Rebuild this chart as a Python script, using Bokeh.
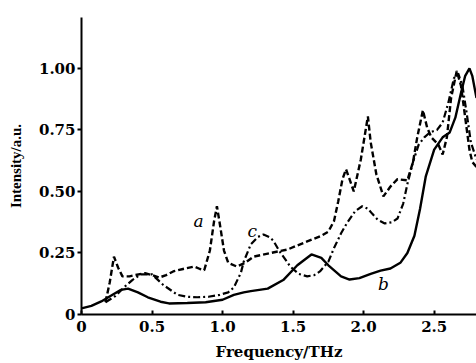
from bokeh.plotting import figure
from bokeh.models import FixedTicker
from bokeh.core.properties import value
from bokeh.embed import file_html
from bokeh.resources import INLINE

# Curve b (solid)
b_x = [0, 0.07, 0.14, 0.22, 0.28, 0.33, 0.4, 0.47, 0.56, 0.62, 0.75, 0.88, 1.0, 1.08, 1.15,
       1.2, 1.32, 1.43, 1.53, 1.63, 1.7, 1.75, 1.84, 1.9, 1.97, 2.05, 2.12, 2.19, 2.26, 2.31,
       2.36, 2.40, 2.44, 2.5, 2.56, 2.61, 2.65, 2.69, 2.72, 2.75, 2.77, 2.8]
b_y = [0.025, 0.035, 0.053, 0.08, 0.1, 0.105, 0.09, 0.07, 0.052, 0.045, 0.047, 0.05, 0.06, 0.08, 0.09,
       0.095, 0.105, 0.14, 0.2, 0.244, 0.23, 0.2, 0.155, 0.142, 0.148, 0.165, 0.178, 0.187, 0.21, 0.25,
       0.32, 0.43, 0.56, 0.67, 0.72, 0.74, 0.8, 0.9, 0.97, 1.0, 0.97, 0.88]

# Curve a (dashed)
a_x = [0.17, 0.2, 0.23, 0.26, 0.29, 0.34, 0.38, 0.45, 0.5, 0.55, 0.6, 0.65, 0.72, 0.8, 0.84, 0.87,
       0.91, 0.94, 0.96, 0.98, 1.01, 1.04, 1.1, 1.16, 1.22, 1.34, 1.46, 1.6, 1.7, 1.75, 1.79, 1.82,
       1.85, 1.875, 1.9, 1.93, 1.98, 2.03, 2.05, 2.09, 2.14, 2.19, 2.24, 2.31, 2.35, 2.38, 2.42,
       2.45, 2.48, 2.53, 2.56, 2.59, 2.62, 2.66, 2.69, 2.72, 2.75, 2.77, 2.8]
a_y = [0.05, 0.13, 0.235, 0.19, 0.155, 0.155, 0.16, 0.168, 0.16, 0.15, 0.16, 0.175, 0.185, 0.195, 0.185, 0.18,
       0.26, 0.38, 0.44, 0.37, 0.26, 0.21, 0.195, 0.21, 0.235, 0.25, 0.264, 0.297, 0.32, 0.337, 0.38, 0.46,
       0.55, 0.59, 0.55, 0.5, 0.63, 0.805, 0.7, 0.57, 0.48, 0.52, 0.55, 0.545, 0.62, 0.72, 0.83,
       0.76, 0.72, 0.69, 0.65, 0.72, 0.88, 0.99, 0.93, 0.8, 0.67, 0.62, 0.6]

# Curve c (dash-dot)
c_x = [0.17, 0.24, 0.3, 0.36, 0.42, 0.5, 0.58, 0.68, 0.75, 0.82, 0.9, 0.98, 1.04, 1.08, 1.13, 1.15,
       1.2, 1.25, 1.29, 1.33, 1.36, 1.4, 1.48, 1.54, 1.6, 1.65, 1.69, 1.75, 1.79, 1.84, 1.88, 1.94,
       1.99, 2.03, 2.06, 2.1, 2.15, 2.2, 2.24, 2.28, 2.31, 2.35, 2.39, 2.43, 2.47, 2.52, 2.56, 2.6,
       2.64, 2.67, 2.7, 2.73, 2.76, 2.8]
c_y = [0.05, 0.075, 0.11, 0.14, 0.163, 0.163, 0.12, 0.08, 0.072, 0.07, 0.072, 0.08, 0.09, 0.11, 0.17, 0.215,
       0.285, 0.315, 0.325, 0.315, 0.3, 0.26, 0.195, 0.165, 0.155, 0.16, 0.175, 0.215, 0.27, 0.33, 0.37, 0.42,
       0.44, 0.43, 0.41, 0.385, 0.37, 0.375, 0.39, 0.45, 0.53, 0.62, 0.69, 0.72, 0.74, 0.75, 0.78, 0.86,
       0.96, 0.98, 0.93, 0.82, 0.7, 0.63]

x_ticks = [0, 0.5, 1.0, 1.5, 2.0, 2.5]
x_tick_labels = ["0", "0.5", "1.0", "1.5", "2.0", "2.5"]
y_ticks = [0, 0.25, 0.5, 0.75, 1.0]
y_tick_labels = ["0", "0.25", "0.50", "0.75", "1.00"]

curve_names = ["a", "b", "c"]
name_x = [0.83, 2.14, 1.21]
name_y = [0.378, 0.122, 0.34]

p = figure(width=476, height=363, output_backend="svg", toolbar_location=None,
           x_range=(0, 2.8), y_range=(0, 1.207),
           min_border_left=81, min_border_right=0, min_border_top=17, min_border_bottom=49)
p.outline_line_color = None
p.grid.visible = False
p.background_fill_color = "white"
p.border_fill_color = "white"

p.line(b_x, b_y, line_color="black", line_width=2.4)
p.line(a_x, a_y, line_color="black", line_width=2.4, line_dash="6 3")
p.line(c_x, c_y, line_color="black", line_width=2.2, line_dash="7 3 2 3")

p.text(name_x, name_y, text=curve_names, text_font=value("DejaVu Serif"),
       text_font_style="italic", text_font_size="17px", text_align="center",
       text_baseline="middle", text_color="black")

xa = p.xaxis[0]
xa.ticker = FixedTicker(ticks=x_ticks)
xa.major_label_overrides = {t: l for t, l in zip(x_ticks, x_tick_labels)}
xa.minor_tick_line_color = None
xa.major_tick_in = 4
xa.major_tick_out = 0
xa.major_tick_line_width = 2
xa.axis_line_width = 2
xa.major_label_standoff = 6
xa.major_label_text_font = "DejaVu Serif"
xa.major_label_text_font_style = "bold"
xa.major_label_text_font_size = "15px"
xa.major_label_text_color = "black"
xa.axis_label = "Frequency/THz"
xa.axis_label_text_font = "DejaVu Serif"
xa.axis_label_text_font_style = "bold"
xa.axis_label_text_font_size = "15px"
xa.axis_label_text_color = "black"
xa.axis_label_standoff = 8

ya = p.yaxis[0]
ya.ticker = FixedTicker(ticks=y_ticks)
ya.major_label_overrides = {t: l for t, l in zip(y_ticks, y_tick_labels)}
ya.minor_tick_line_color = None
ya.major_tick_in = 0
ya.major_tick_out = 4
ya.major_tick_line_width = 2
ya.axis_line_width = 2
ya.major_label_standoff = 2
ya.major_label_text_font = "DejaVu Serif"
ya.major_label_text_font_style = "bold"
ya.major_label_text_font_size = "15px"
ya.major_label_text_color = "black"
ya.axis_label = "Intensity/a.u."
ya.axis_label_text_font = "Liberation Serif"
ya.axis_label_text_font_style = "bold"
ya.axis_label_text_font_size = "15px"
ya.axis_label_text_color = "black"
ya.axis_label_standoff = 12

open("out.html", "w").write(file_html(p, INLINE))
